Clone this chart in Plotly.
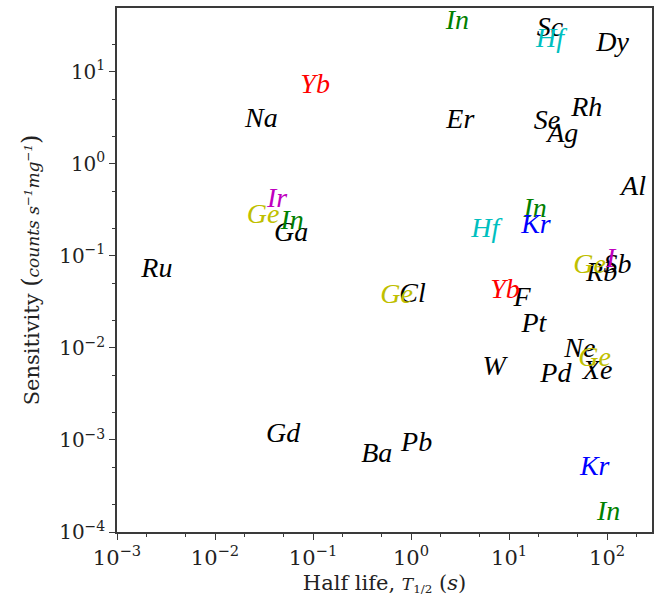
import plotly.graph_objects as go

# ---- data (half life in s, sensitivity in counts s^-1 mg^-1) ----
black_symbols = ["Sc", "Dy", "Na", "Er", "Se", "Rh", "Ag", "Al", "Ga", "Ru", "Sb", "Rb",
                 "Cl", "F", "Pt", "Ne", "Xe", "Pd", "W", "Gd", "Ba", "Pb"]
black_half_life = [26.1, 114, 0.0297, 3.18, 24.3, 62, 35.3, 186, 0.0598, 0.00255, 128, 88,
                   1.035, 13.6, 17.9, 52.6, 80, 30, 7.05, 0.0495, 0.447, 1.14]
black_sensitivity = [29.3, 20.1, 3.0, 2.93, 2.86, 3.96, 2.07, 0.548, 0.173, 0.0705, 0.078, 0.0637,
                     0.0377, 0.0341, 0.0178, 0.0095, 0.0055, 0.0051, 0.00606, 0.00113, 0.000687, 0.000906]

red_symbols = ["Yb", "Yb"]
red_half_life = [0.105, 9.1]
red_sensitivity = [7.05, 0.0417]

green_symbols = ["In", "In", "In", "In"]
green_half_life = [2.97, 0.0612, 18.4, 103.5]
green_sensitivity = [34.9, 0.234, 0.316, 0.000161]

cyan_symbols = ["Hf", "Hf"]
cyan_half_life = [26.1, 5.7]
cyan_sensitivity = [22.3, 0.192]

blue_symbols = ["Kr", "Kr"]
blue_half_life = [18.8, 74.7]
blue_sensitivity = [0.212, 0.000496]

magenta_symbols = ["Ir", "I"]
magenta_half_life = [0.043, 108.6]
magenta_sensitivity = [0.406, 0.0906]

yellow_symbols = ["Ge", "Ge", "Ge", "Ge"]
yellow_half_life = [0.031, 66.4, 0.713, 74.6]
yellow_sensitivity = [0.272, 0.0778, 0.0367, 0.0076]

x_tick_vals = [1e-3, 1e-2, 1e-1, 1e0, 1e1, 1e2]
x_tick_text = ["10<sup>−3</sup>", "10<sup>−2</sup>", "10<sup>−1</sup>", "10<sup>0</sup>",
               "10<sup>1</sup>", "10<sup>2</sup>"]
y_tick_vals = [1e-4, 1e-3, 1e-2, 1e-1, 1e0, 1e1]
y_tick_text = ["10<sup>−4</sup>", "10<sup>−3</sup>", "10<sup>−2</sup>", "10<sup>−1</sup>",
               "10<sup>0</sup>", "10<sup>1</sup>"]

series = [
    (black_symbols, black_half_life, black_sensitivity, "#000000"),
    (yellow_symbols, yellow_half_life, yellow_sensitivity, "#bfbf00"),
    (green_symbols, green_half_life, green_sensitivity, "#008000"),
    (magenta_symbols, magenta_half_life, magenta_sensitivity, "#bf00bf"),
    (blue_symbols, blue_half_life, blue_sensitivity, "#0000ff"),
    (cyan_symbols, cyan_half_life, cyan_sensitivity, "#00bfbf"),
    (red_symbols, red_half_life, red_sensitivity, "#ff0000"),
]

fig = go.Figure()
for syms, xs, ys, col in series:
    fig.add_trace(go.Scatter(
        x=xs, y=ys, mode="text",
        text=[f"<i>{s}</i>" for s in syms],
        textposition="middle center",
        textfont=dict(family="Liberation Serif", size=28, color=col),
        showlegend=False, hoverinfo="skip",
    ))

axis_common = dict(
    type="log",
    showline=True, linecolor="#3a3a3a", linewidth=1.5, mirror=True,
    ticks="outside", ticklen=6, tickwidth=1.2, tickcolor="#3a3a3a",
    minor=dict(ticks="outside", ticklen=3, tickwidth=1, tickcolor="#3a3a3a", showgrid=False),
    showgrid=False, zeroline=False,
)

fig.update_xaxes(
    **axis_common,
    range=[-3, 2.458],
    tickvals=x_tick_vals, ticktext=x_tick_text,
    tickfont=dict(family="DejaVu Serif", size=21, color="#222222"),
    title=dict(text="Half life, <span style='font-size:17px'><i>T</i><sub>1/2</sub></span> (<i>s</i>)",
               font=dict(family="DejaVu Serif", size=21, color="#222222"), standoff=6),
)
fig.update_yaxes(
    **axis_common,
    range=[-4, 1.693],
    tickvals=y_tick_vals, ticktext=y_tick_text,
    tickfont=dict(family="DejaVu Serif", size=20, color="#222222"),
    title=dict(text="Sensitivity <span style='font-size:24px'>(</span><span style='font-size:17px'><i>counts s<sup>−1</sup>mg<sup>−1</sup></i></span><span style='font-size:24px'>)</span>",
               font=dict(family="DejaVu Serif", size=21, color="#222222"), standoff=14),
)

fig.update_layout(
    width=660, height=604,
    margin=dict(l=117, r=7, t=6, b=72),
    paper_bgcolor="white", plot_bgcolor="white",
)

fig.write_html("out.html")
